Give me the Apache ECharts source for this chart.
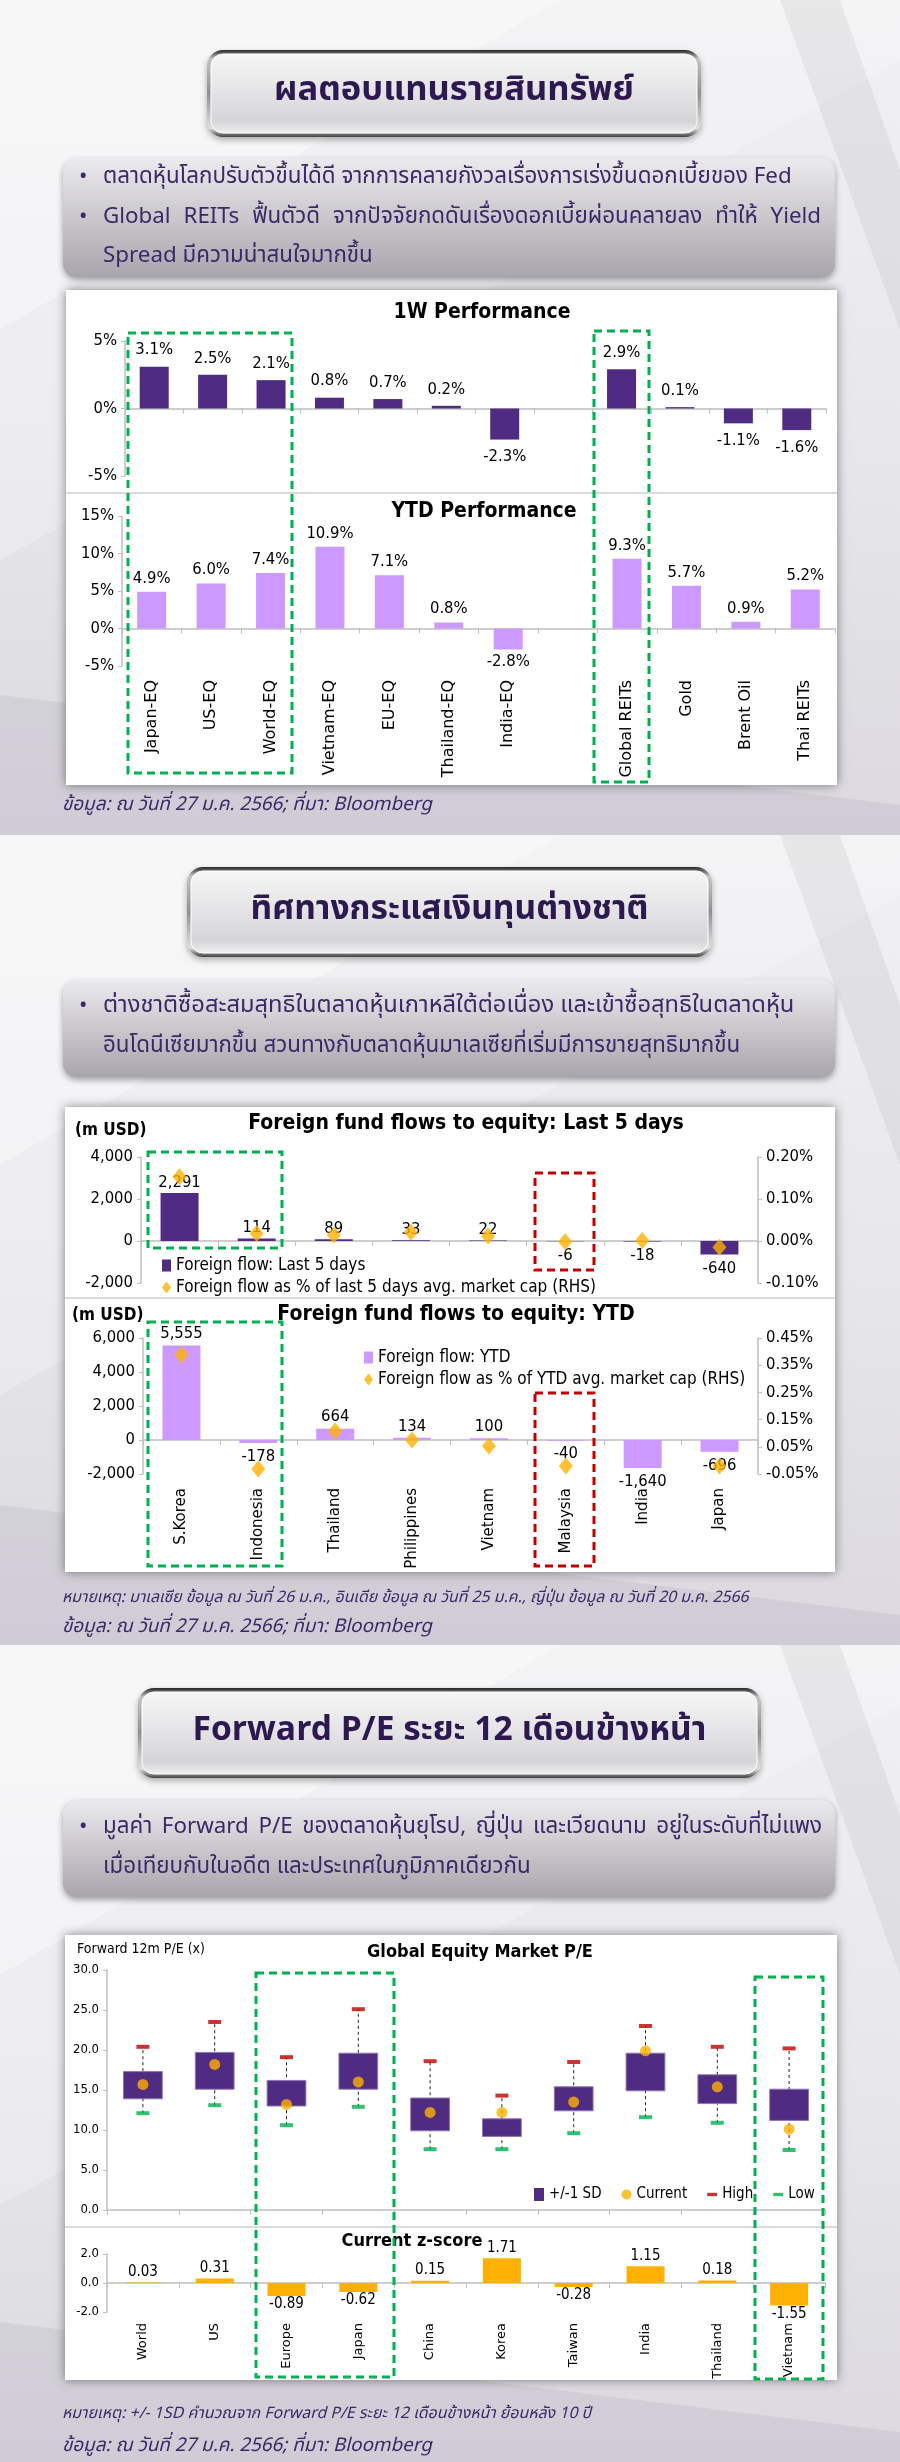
<!DOCTYPE html>
<html><head><meta charset="utf-8">
<script src="https://cdn.jsdelivr.net/npm/echarts@6/dist/echarts.min.js"></script>
<style>html,body{margin:0;padding:0;background:#e6e5e9;} #c{width:900px;height:2462px;}</style>
</head><body><div id="c"></div>
<script>
// ---------------- DATA ----------------
const perfCategories = ['Japan-EQ','US-EQ','World-EQ','Vietnam-EQ','EU-EQ','Thailand-EQ','India-EQ','','Global REITs','Gold','Brent Oil','Thai REITs'];
const perf1W  = [3.1, 2.5, 2.1, 0.8, 0.7, 0.2, -2.3, null, 2.9, 0.1, -1.1, -1.6];
const perfYTD = [4.9, 6.0, 7.4, 10.9, 7.1, 0.8, -2.8, null, 9.3, 5.7, 0.9, 5.2];

const flowCategories = ['S.Korea','Indonesia','Thailand','Philippines','Vietnam','Malaysia','India','Japan'];
const flow5D     = [2291, 114, 89, 33, 22, -6, -18, -640];
const flow5DPct  = [0.153, 0.018, 0.014, 0.021, 0.012, -0.002, 0.001, -0.015];
const flowYTD    = [5555, -178, 664, 134, 100, -40, -1640, -696];
const flowYTDPct = [0.388, -0.032, 0.108, 0.075, 0.053, -0.021, null, -0.021];

const peCategories = ['World','US','Europe','Japan','China','Korea','Taiwan','India','Thailand','Vietnam'];
const peSdHigh  = [17.3, 19.7, 16.2, 19.6, 14.0, 11.4, 15.4, 19.6, 16.9, 15.1];
const peSdLow   = [13.9, 15.1, 13.0, 15.1, 9.9, 9.2, 12.4, 14.9, 13.3, 11.2];
const peCurrent = [15.7, 18.2, 13.2, 16.0, 12.2, 12.2, 13.5, 19.9, 15.4, 10.1];
const peHigh    = [20.4, 23.5, 19.1, 25.1, 18.6, 14.3, 18.5, 23.0, 20.4, 20.2];
const peLow     = [12.1, 13.1, 10.6, 12.9, 7.6, 7.6, 9.6, 11.6, 10.9, 7.5];
const zScore    = [0.03, 0.31, -0.89, -0.62, 0.15, 1.71, -0.28, 1.15, 0.18, -1.55];

// ---------------- TEXT ----------------
const titles = ['ผลตอบแทนรายสินทรัพย์', 'ทิศทางกระแสเงินทุนต่างชาติ', 'Forward P/E ระยะ 12 เดือนข้างหน้า'];
const bullets1 = [
  {t:'ตลาดหุ้นโลกปรับตัวขึ้นได้ดี จากการคลายกังวลเรื่องการเร่งขึ้นดอกเบี้ยของ Fed', dot:true},
  {t:'Global REITs ฟื้นตัวดี จากปัจจัยกดดันเรื่องดอกเบี้ยผ่อนคลายลง ทำให้ Yield', dot:true, justify:821},
  {t:'Spread มีความน่าสนใจมากขึ้น'}
];
const bullets2 = [
  {t:'ต่างชาติซื้อสะสมสุทธิในตลาดหุ้นเกาหลีใต้ต่อเนื่อง และเข้าซื้อสุทธิในตลาดหุ้น', dot:true, fitTo:823},
  {t:'อินโดนีเซียมากขึ้น สวนทางกับตลาดหุ้นมาเลเซียที่เริ่มมีการขายสุทธิมากขึ้น'}
];
const bullets3 = [
  {t:'มูลค่า Forward P/E ของตลาดหุ้นยุโรป, ญี่ปุ่น และเวียดนาม อยู่ในระดับที่ไม่แพง', dot:true, justify:822},
  {t:'เมื่อเทียบกับในอดีต และประเทศในภูมิภาคเดียวกัน'}
];
const sourceText = 'ข้อมูล: ณ วันที่ 27 ม.ค. 2566; ที่มา: Bloomberg';
const note2 = 'หมายเหตุ: มาเลเซีย ข้อมูล ณ วันที่ 26 ม.ค., อินเดีย ข้อมูล ณ วันที่ 25 ม.ค., ญี่ปุ่น ข้อมูล ณ วันที่ 20 ม.ค. 2566';
const note3 = 'หมายเหตุ: +/- 1SD คำนวณจาก Forward P/E ระยะ 12 เดือนข้างหน้า ย้อนหลัง 10 ปี';

// ---------------- STYLE ----------------
const F_NUM = "'DejaVu Sans Condensed','DejaVu Sans',sans-serif";
const F_CAT = "'DejaVu Sans',Verdana,sans-serif";
const F_TH  = "'Noto Sans Thai','Noto Sans Thai UI','Loma','Garuda','Noto Sans',sans-serif";
const PURPLE = '#4F2B82', LILAC = '#CC99FF', ORANGE = '#FFB000', GREEN = '#00B050', RED = '#C00000';
const TXT = '#3B2868', TITLE = '#2D1850', AX = '#BFBFBF';

const mctx = document.createElement('canvas').getContext('2d');
function measure(text, size, family, weight, style) {
  mctx.font = (style||'normal') + ' ' + (weight||'normal') + ' ' + size + 'px ' + family;
  return mctx.measureText(text).width;
}
function fit(text, target, family, weight, style, lo, hi) {
  const s = 20 * target / measure(text, 20, family, weight, style);
  return Math.max(lo, Math.min(hi, s));
}

const G = [];
function txt(text, x, y, o) {
  G.push({type:'text', x:x, y:y, z:o && o.z!=null ? o.z : 5,
    style:{text:text, fill:(o&&o.fill)||'#000', fontSize:(o&&o.size)||16, fontFamily:(o&&o.family)||F_NUM,
      fontWeight:(o&&o.weight)||'normal', fontStyle:(o&&o.style)||'normal',
      align:(o&&o.align)||'left', verticalAlign:'middle'}});
}

// background per section
function sectionBg(y0, y1) {
  G.push({type:'rect', z:-20, shape:{x:0,y:y0,width:900,height:y1-y0},
    style:{fill:new echarts.graphic.LinearGradient(0,0,0,1,[{offset:0,color:'#f1f1f3'},{offset:0.55,color:'#e7e6ea'},{offset:1,color:'#dbd9df'}])}});
  G.push({type:'polygon', z:-19, shape:{points:[[0,y0],[560,y0],[0,y0+330]]}, style:{fill:'rgba(255,255,255,0.45)'}});
  G.push({type:'polygon', z:-19, shape:{points:[[560,y0],[900,y0],[900,y0+60],[0,y0+560],[0,y0+330]]}, style:{fill:'rgba(255,255,255,0.22)'}});
  G.push({type:'polygon', z:-19, shape:{points:[[780,y0],[840,y0],[900,y0+170],[900,y0+330]]}, style:{fill:'rgba(0,0,0,0.05)'}});
  G.push({type:'polygon', z:-19, shape:{points:[[0,y1-140],[900,y1-30],[900,y1],[0,y1]]}, style:{fill:'rgba(110,100,130,0.10)'}});
}
sectionBg(0, 835); sectionBg(835, 1645); sectionBg(1645, 2462);

function titleBox(x, y, w, h, text, target) {
  G.push({type:'rect', z:-15, shape:{x:x,y:y,width:w,height:h,r:16},
    style:{fill:new echarts.graphic.LinearGradient(0,0,0,1,[{offset:0,color:'#262626'},{offset:0.1,color:'#c4c4c4'},{offset:0.5,color:'#8f8f8f'},{offset:0.9,color:'#e0e0e0'},{offset:1,color:'#404040'}]),
      shadowColor:'rgba(0,0,0,0.3)', shadowBlur:6, shadowOffsetY:3}});
  G.push({type:'rect', z:-14, shape:{x:x+4,y:y+4,width:w-8,height:h-8,r:12},
    style:{fill:new echarts.graphic.LinearGradient(0,0,0,1,[{offset:0,color:'#f6f6f7'},{offset:0.5,color:'#e3e3e5'},{offset:0.85,color:'#d5d5d8'},{offset:1,color:'#f0f0f1'}]),
      stroke:'#ffffff', lineWidth:1}});
  const s = fit(text, target, F_TH, 'bold', 'normal', 20, 44);
  txt(text, x + w/2, y + h/2, {size:s, family:F_TH, weight:'bold', fill:TITLE, align:'center'});
}
titleBox(207, 50, 494, 87, titles[0], 360);
titleBox(187, 867, 525, 90, titles[1], 398);
titleBox(138, 1688, 623, 90, titles[2], 514);

function bulletBox(y, h, lines, ys, size) {
  G.push({type:'rect', z:-15, shape:{x:63,y:y,width:772,height:h,r:14},
    style:{fill:new echarts.graphic.LinearGradient(0,0,0,1,[{offset:0,color:'#ebeaed'},{offset:1,color:'#a8a5ac'}]),
      shadowColor:'rgba(0,0,0,0.35)', shadowBlur:6, shadowOffsetY:3}});
  lines.forEach(function(l, i) {
    if (l.dot) txt('•', 79, ys[i], {size:size, family:F_TH, fill:TXT});
    if (l.justify) {
      const words = l.t.split(' ');
      const ws = words.map(function(wd){return measure(wd, size, F_TH);});
      const sum = ws.reduce(function(a,b){return a+b;},0);
      const gap = (l.justify - 103 - sum) / (words.length - 1);
      let cx = 103;
      words.forEach(function(wd, k){ txt(wd, cx, ys[i], {size:size, family:F_TH, fill:TXT}); cx += ws[k] + gap; });
    } else if (l.fitTo) {
      const s2 = Math.min(size * 1.06, fit(l.t, l.fitTo - 103, F_TH, 'normal', 'normal', 12, 30));
      txt(l.t, 103, ys[i], {size:s2, family:F_TH, fill:TXT});
    } else {
      txt(l.t, 103, ys[i], {size:size, family:F_TH, fill:TXT});
    }
  });
}
const bSize = (fit(bullets1[0].t, 692, F_TH, 'normal', 'normal', 14, 28) + fit(bullets2[1].t, 643, F_TH, 'normal','normal',14,28) + fit(bullets3[1].t, 422, F_TH,'normal','normal',14,28)) / 3;
bulletBox(158, 119, bullets1, [178, 218, 257], bSize);
bulletBox(980, 97, bullets2, [1007, 1047], bSize);
bulletBox(1800, 97, bullets3, [1828, 1868], bSize);

function panel(x, y, w, h, divY) {
  G.push({type:'rect', z:-12, shape:{x:x,y:y,width:w,height:h},
    style:{fill:'#ffffff', shadowColor:'rgba(0,0,0,0.45)', shadowBlur:10}});
  G.push({type:'line', z:-11, shape:{x1:x,y1:divY,x2:x+w,y2:divY}, style:{stroke:'#cfcfcf', lineWidth:1.5}});
}
panel(66, 290, 771, 495, 493);
panel(65, 1107, 770, 465, 1298);
panel(65, 1935, 772, 445, 2227);

// footers
const srcSize = fit(sourceText, 370, F_TH, 'normal', 'italic', 12, 26);
txt(sourceText, 62, 806, {size:srcSize, family:F_TH, style:'italic', fill:TXT});
txt(note2, 62, 1599, {size:fit(note2, 687, F_TH,'normal','italic',10,22), family:F_TH, style:'italic', fill:TXT});
txt(sourceText, 62, 1628, {size:srcSize, family:F_TH, style:'italic', fill:TXT});
txt(note3, 62, 2415, {size:fit(note3, 530, F_TH,'normal','italic',10,22), family:F_TH, style:'italic', fill:TXT});
txt(sourceText, 62, 2447, {size:srcSize, family:F_TH, style:'italic', fill:TXT});

// chart titles
txt('1W Performance', 482, 313, {size:21, weight:'bold', align:'center'});
txt('YTD Performance', 484, 512, {size:21, weight:'bold', align:'center'});
txt('Foreign fund flows to equity: Last 5 days', 466, 1124, {size:21, weight:'bold', align:'center'});
txt('(m USD)', 75, 1131, {size:17, weight:'bold'});
txt('Foreign fund flows to equity: YTD', 456, 1315, {size:21, weight:'bold', align:'center'});
txt('(m USD)', 72, 1316, {size:17, weight:'bold'});
txt('Global Equity Market P/E', 480, 1952, {size:18, weight:'bold', align:'center'});
txt('Forward 12m P/E (x)', 77, 1949, {size:14});
txt('Current z-score', 412, 2241, {size:18, weight:'bold', align:'center'});

// highlight boxes (annotations)
function dashBox(x, y, w, h, color) {
  G.push({type:'rect', z:50, shape:{x:x,y:y,width:w,height:h}, style:{fill:'none', stroke:color, lineWidth:3, lineDash:[8,5]}});
}
dashBox(128, 333, 164, 440, GREEN);
dashBox(594, 331, 55, 451, GREEN);
dashBox(148, 1152, 134, 96, GREEN);
dashBox(535, 1173, 59, 97, RED);
dashBox(148, 1322, 134, 244, GREEN);
dashBox(535, 1393, 59, 173, RED);
dashBox(256, 1973, 138, 404, GREEN);
dashBox(755, 1977, 68, 402, GREEN);

// ---------------- AXES ----------------
function catAxis(gi, data) {
  return {type:'category', gridIndex:gi, data:data,
    axisLine:{show:true, onZero:true, lineStyle:{color:AX, width:1.5}},
    axisTick:{show:true, interval:0, length:5, lineStyle:{color:AX}},
    axisLabel:{show:false}, splitLine:{show:false}};
}
function labelAxis(gi, data, size, margin) {
  return {type:'category', gridIndex:gi, data:data, position:'bottom',
    axisLine:{show:false, onZero:false}, axisTick:{show:false}, splitLine:{show:false},
    axisLabel:{show:true, interval:0, rotate:90, margin:margin, color:'#000', fontFamily:F_CAT, fontSize:size}};
}
function valAxis(gi, min, max, interval, fmt, size, extra) {
  return Object.assign({type:'value', gridIndex:gi, min:min, max:max, interval:interval,
    axisLine:{show:true, lineStyle:{color:AX, width:1.5}},
    axisTick:{show:true, length:4, lineStyle:{color:AX}},
    splitLine:{show:false},
    axisLabel:{color:'#000', fontFamily:F_NUM, fontSize:size, margin:8, formatter:fmt}}, extra||{});
}
const pctFmt0 = function(v){return Math.round(v) + '%';};
const thFmt = function(v){return v.toLocaleString('en-US');};
const pct2 = function(v){return (Math.round(v*100)/100).toFixed(2) + '%';};
const dec1 = function(v){return v.toFixed(1);};

function barLabels(values, fmt, size, dPos, dNeg) {
  return values.map(function(v){
    return {value:v, label:{show:v!=null, position: v<0 ? 'bottom':'top', distance: v<0 ? dNeg : dPos,
      formatter:function(p){return fmt(p.value);}, color:'#000', fontFamily:F_NUM, fontSize:size}};
  });
}

const option = {
  animation:false,
  backgroundColor:'#e6e5e9',
  graphic:{elements:G},
  grid:[
    {left:125, top:341, width:701, height:135, outerBoundsMode:'none'},
    {left:122, top:516, width:713, height:150, outerBoundsMode:'none'},
    {left:141, top:1157, width:617, height:126, outerBoundsMode:'none'},
    {left:143, top:1338, width:615, height:136, outerBoundsMode:'none'},
    {left:107, top:1970, width:718, height:240, outerBoundsMode:'none'},
    {left:107, top:2254, width:718, height:58, outerBoundsMode:'none'}
  ],
  xAxis:[
    catAxis(0, perfCategories),
    catAxis(1, perfCategories),
    catAxis(2, flowCategories),
    catAxis(3, flowCategories),
    catAxis(4, peCategories),
    catAxis(5, peCategories),
    labelAxis(1, perfCategories, 16, 14),
    labelAxis(3, flowCategories, 15, 14),
    labelAxis(5, peCategories, 13, 11)
  ],
  yAxis:[
    valAxis(0, -5, 5, 5, pctFmt0, 16.5),
    valAxis(1, -5, 15, 5, pctFmt0, 16.5),
    valAxis(2, -2000, 4000, 2000, thFmt, 16.5),
    valAxis(2, -0.1, 0.2, 0.1, pct2, 16.5, {position:'right'}),
    valAxis(3, -2000, 6000, 2000, thFmt, 16.5),
    valAxis(3, -0.05, 0.45, 0.1, pct2, 16.5, {position:'right'}),
    valAxis(4, 0, 30, 5, dec1, 13),
    valAxis(5, -2, 2, 2, dec1, 13)
  ],
  legend:[
    {orient:'vertical', left:157, top:1252, itemWidth:9, itemHeight:12, itemGap:5, selectedMode:false,
      textStyle:{fontFamily:F_NUM, fontSize:17, color:'#000'},
      data:[{name:'Foreign flow: Last 5 days', icon:'rect'}, {name:'Foreign flow as % of last 5 days avg. market cap (RHS)', icon:'diamond'}]},
    {orient:'vertical', left:359, top:1344, itemWidth:9, itemHeight:12, itemGap:5, selectedMode:false,
      textStyle:{fontFamily:F_NUM, fontSize:17, color:'#000'},
      data:[{name:'Foreign flow: YTD', icon:'rect'}, {name:'Foreign flow as % of YTD avg. market cap (RHS)', icon:'diamond'}]},
    {orient:'horizontal', left:529, top:2182, itemWidth:10, itemHeight:13, itemGap:20, selectedMode:false,
      textStyle:{fontFamily:F_NUM, fontSize:15, color:'#000'},
      data:[{name:'+/-1 SD', icon:'rect'}, {name:'Current', icon:'circle'}, {name:'High', icon:'path://M0,0h12v4h-12z'}, {name:'Low', icon:'path://M0,0h12v4h-12z'}]}
  ],
  series:[
    {type:'bar', name:'1W', xAxisIndex:0, yAxisIndex:0, barWidth:29, itemStyle:{color:PURPLE},
      data:barLabels(perf1W, function(v){return v.toFixed(1)+'%';}, 16.5, 8, 9)},
    {type:'bar', name:'YTD', xAxisIndex:1, yAxisIndex:1, barWidth:29, itemStyle:{color:LILAC},
      data:barLabels(perfYTD, function(v){return v.toFixed(1)+'%';}, 16.5, 5, 4)},
    {type:'bar', name:'Foreign flow: Last 5 days', xAxisIndex:2, yAxisIndex:2, barWidth:38, itemStyle:{color:PURPLE},
      data:barLabels(flow5D, thFmt, 16.5, 2, 6)},
    {type:'scatter', name:'Foreign flow as % of last 5 days avg. market cap (RHS)', xAxisIndex:2, yAxisIndex:3,
      symbol:'diamond', symbolSize:[14,17], itemStyle:{color:ORANGE}, z:4, data:flow5DPct},
    {type:'bar', name:'Foreign flow: YTD', xAxisIndex:3, yAxisIndex:4, barWidth:38, itemStyle:{color:LILAC},
      data:barLabels(flowYTD, thFmt, 16.5, 3, 5)},
    {type:'scatter', name:'Foreign flow as % of YTD avg. market cap (RHS)', xAxisIndex:3, yAxisIndex:5,
      symbol:'diamond', symbolSize:[14,17], itemStyle:{color:ORANGE}, z:4, data:flowYTDPct},
    {type:'custom', name:'range', xAxisIndex:4, yAxisIndex:6, z:2,
      data:peCategories.map(function(c,i){return [i, peLow[i], peHigh[i]];}),
      encode:{x:0, y:[1,2]},
      renderItem:function(params, api){
        const a = api.coord([api.value(0), api.value(1)]), b = api.coord([api.value(0), api.value(2)]);
        return {type:'line', shape:{x1:a[0],y1:a[1],x2:b[0],y2:b[1]}, style:{stroke:'#222', lineWidth:1, lineDash:[3,3]}};
      }},
    {type:'custom', name:'+/-1 SD', xAxisIndex:4, yAxisIndex:6, z:3, itemStyle:{color:PURPLE},
      data:peCategories.map(function(c,i){return [i, peSdLow[i], peSdHigh[i]];}),
      encode:{x:0, y:[1,2]},
      renderItem:function(params, api){
        const lo = api.coord([api.value(0), api.value(1)]), hi = api.coord([api.value(0), api.value(2)]);
        const w = api.size([1,0])[0] * 0.54;
        return {type:'rect', shape:{x:lo[0]-w/2, y:hi[1], width:w, height:lo[1]-hi[1]},
          style:{fill:api.visual('color'), stroke:'#8E76B8', lineWidth:1}};
      }},
    {type:'scatter', name:'High', xAxisIndex:4, yAxisIndex:6, z:4, symbol:'rect', symbolSize:[13,4], itemStyle:{color:RED}, data:peHigh},
    {type:'scatter', name:'Low', xAxisIndex:4, yAxisIndex:6, z:4, symbol:'rect', symbolSize:[13,4], itemStyle:{color:GREEN}, data:peLow},
    {type:'scatter', name:'Current', xAxisIndex:4, yAxisIndex:6, z:5, symbol:'circle', symbolSize:11, itemStyle:{color:ORANGE}, data:peCurrent},
    {type:'bar', name:'z-score', xAxisIndex:5, yAxisIndex:7, barWidth:38, itemStyle:{color:ORANGE},
      data:barLabels(zScore, function(v){return v.toFixed(2);}, 15, 3, 1)}
  ]
};
const chart = echarts.init(document.getElementById('c'), null, {renderer:'canvas', width:900, height:2462});
chart.setOption(option);
</script>
</body></html>
